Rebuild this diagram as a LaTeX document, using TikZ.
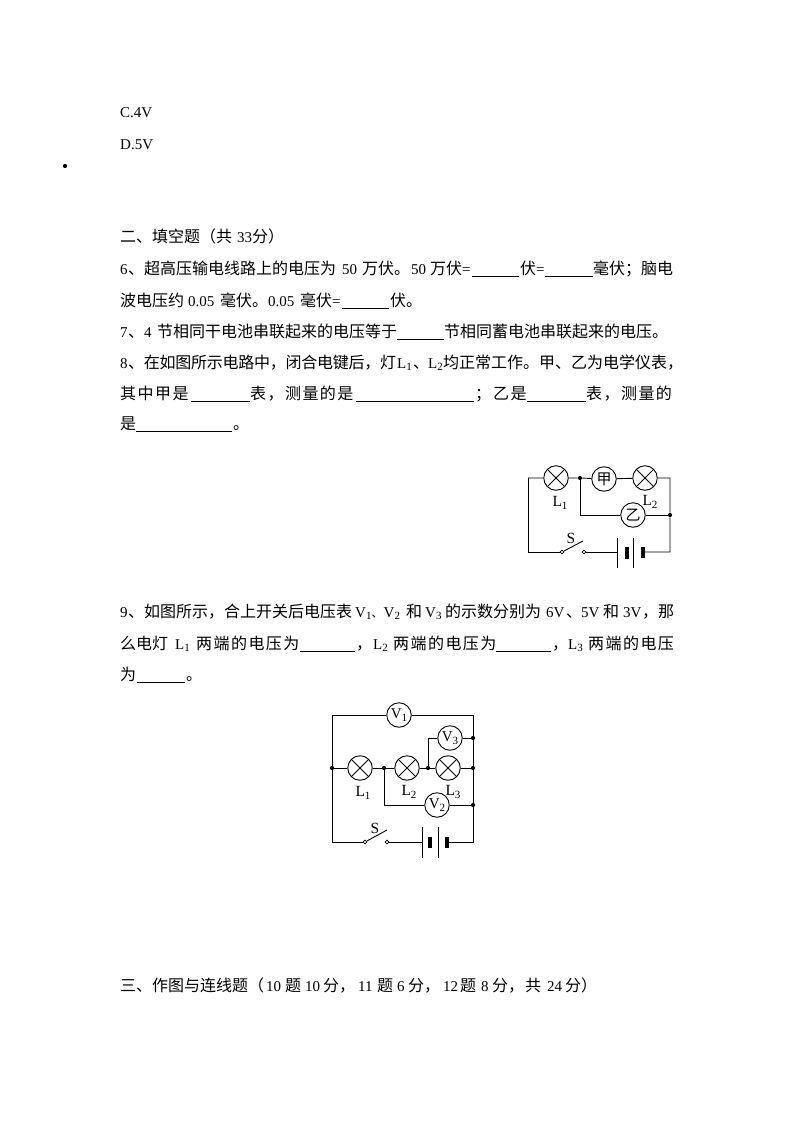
\documentclass[tikz,border=0pt]{standalone}
\usepackage{fontspec}
\setmainfont{Liberation Serif}
\newfontfamily\cjk{Noto Sans CJK SC}
\newcommand{\lowi}[1]{\raisebox{-2.5pt}{\fontsize{11}{11}\selectfont #1}}
\newcommand{\nrw}[2]{\makebox[#1pt][l]{#2}}
\tikzset{
 x=1pt,y=-1pt,
 zh/.style={anchor=base west,inner sep=0,yshift=-1pt,font=\cjk\fontsize{16}{16}\selectfont},
 zhs/.style={zh,font=\cjk\fontsize{16}{16}\selectfont\addfontfeature{LetterSpace=9}},
 zhn/.style={zh,font=\cjk\fontsize{16}{16}\selectfont\addfontfeature{LetterSpace=-1.6}},
 zhsmall/.style={zh,font=\cjk\fontsize{11.5}{11.5}\selectfont},
 lat/.style={anchor=base west,inner sep=0,yshift=-1pt,font=\fontsize{15}{15}\selectfont},
 blank/.style={line width=0.9pt,yshift=-1pt},
 wire/.style={line width=0.9pt},
 plate/.style={line width=0.9pt},
 thickplate/.style={line width=3.5pt},
 lamp/.style={circle,draw,line width=0.9pt,minimum size=24.5pt,inner sep=0,
   path picture={\draw[line width=0.9pt] (path picture bounding box.north west)--(path picture bounding box.south east)
   (path picture bounding box.north east)--(path picture bounding box.south west);}},
 meter/.style={circle,draw,line width=0.9pt,minimum size=24.5pt,inner sep=0},
 dot/.style={circle,fill=black,minimum size=4.2pt,inner sep=0},
 contact/.style={circle,draw,line width=0.8pt,minimum size=3.8pt,inner sep=0},
 lab/.style={inner sep=0,font=\fontsize{15.5}{15.5}\selectfont},
 mtxt/.style={inner sep=0,font=\fontsize{15}{15}\selectfont},
 mzh/.style={inner sep=0,font=\cjk\fontsize{15}{15}\selectfont},
}
\begin{document}
\begin{tikzpicture}
\useasboundingbox (0,0) rectangle (794,1123);
% top
\node[lat] (c4) at (120,117) {C.4V};
\node[lat] (d5) at (120,149) {D.5V};
\node[dot] (bul) at (65,166) {};
% header
\node[zh] (h1) at (120,241) {二、填空题（共};
\node[lat] (h2) at (237,241) {33};
\node[zh] (h3) at (252,241) {分）};
% q6
\node[lat] (q6a) at (120,273) {6};
\node[zh] (q6b) at (128,273) {、超高压输电线路上的电压为};
\node[lat] (q6c) at (342,273) {50};
\node[zh] (q6d) at (362,273) {万伏。};
\node[lat] (q6e) at (411,273) {50};
\node[zh] (q6f) at (430,273) {万伏};
\node[lat] (q6g) at (462,273) {=};
\draw[blank] (472,275.5)--(519,275.5);
\node[zh] (q6h) at (520,273) {伏};
\node[lat] (q6i) at (536,273) {=};
\draw[blank] (545,275.5)--(593,275.5);
\node[zh] (q6j) at (593,273) {毫伏；脑电};
\node[zh] (q6k) at (120,305) {波电压约};
\node[lat] (q6l) at (188,305) {0.05};
\node[zh] (q6m) at (220,305) {毫伏。};
\node[lat] (q6n) at (268,305) {0.05};
\node[zh] (q6o) at (300,305) {毫伏};
\node[lat] (q6p) at (332,305) {=};
\draw[blank] (342,307.5)--(389,307.5);
\node[zh] (q6q) at (390,305) {伏。};
% q7
\node[lat] (q7a) at (120,336) {7};
\node[zh] (q7b) at (128,336) {、};
\node[lat] (q7c) at (144,336) {4};
\node[zh] (q7d) at (157,336) {节相同干电池串联起来的电压等于};
\draw[blank] (397,338.5)--(444,338.5);
\node[zh] (q7e) at (444,336) {节相同蓄电池串联起来的电压。};
% q8
\node[lat] (q8a) at (120,367) {8};
\node[zhn] (q8b) at (128,367) {、在如图所示电路中，闭合电键后，灯};
\node[lat] (q8c) at (397,367) {L\lowi{1}};
\node[zh] (q8d) at (413,367) {\nrw{14}{、}};
\node[lat] (q8e) at (428,367) {L\lowi{2}};
\node[zh] (q8f) at (443,367) {均正常工作。甲、乙为电学仪表，};
\node[zhs] (q8g) at (120,398) {其中甲是};
\draw[blank] (191,400.5)--(250,400.5);
\node[zhs] (q8h) at (250,398) {表，测量的是};
\draw[blank] (356,400.5)--(474,400.5);
\node[zh] (q8i) at (475,398) {；};
\node[zhs] (q8j) at (493,398) {乙是};
\draw[blank] (527,400.5)--(586,400.5);
\node[zhs] (q8k) at (586,398) {表，测量的};
\node[zh] (q8l) at (120,428) {是};
\draw[blank] (136,430.5)--(232,430.5);
\node[zh] (q8m) at (233,428) {。};
% circuit 1
\node[lamp] (a1) at (556,478) {};
\node[dot] (aj1) at (580,478) {};
\node[meter] (am) at (604,479) {}; \node[mzh] (amt) at (604,479) {甲};
\node[lamp] (a2) at (645,478) {};
\node[meter] (an) at (633,515) {}; \node[mzh] (ant) at (633,515) {乙};
\node[dot] (aj2) at (670,515) {};
\coordinate (atl) at (528,478);
\coordinate (atr) at (670,478);
\coordinate (abl) at (528,552);
\coordinate (abr) at (670,552);
\coordinate (ajd) at (580,515);
\node[contact] (asa) at (562,552) {};
\node[contact] (asb) at (584,552) {};
\coordinate (abt) at (583,541);
\coordinate (apa) at (617,552);
\coordinate (apb) at (643,552);
\draw[wire] (atl)--(a1) (a1)--(aj1)--(am)--(a2)--(atr)--(aj2)--(abr)--(apb);
\draw[wire] (atl)--(abl)--(asa);
\draw[wire] (asa)--(abt);
\draw[wire] (asb)--(apa);
\draw[wire] (aj1)--(ajd)--(an)--(aj2);
\draw[plate] (617,538)--(617,568) (633,538)--(633,568);
\draw[thickplate] (627,547)--(627,559) (643,547)--(643,558);
\node[lab] (al1) at (560,503) {L\lowi{1}};
\node[lab] (al2) at (650,502) {L\lowi{2}};
\node[lab] (as) at (571,538) {S};
% q9
\node[lat] (q9a) at (120,616) {9};
\node[zh] (q9b) at (128,616) {、如图所示，合上开关后电压表};
\node[lat] (q9c) at (355,616) {V\lowi{1}};
\node[zhsmall] (q9d) at (371.5,616) {、};
\node[lat] (q9e) at (383.5,616) {V\lowi{2}};
\node[zh] (q9f) at (406,616) {和};
\node[lat] (q9g) at (425,616) {V\lowi{3}};
\node[zh] (q9h) at (445,616) {的示数分别为};
\node[lat] (q9i) at (546,616) {6V};
\node[zh] (q9j) at (566,616) {、};
\node[lat] (q9k) at (581,616) {5V};
\node[zh] (q9l) at (603,616) {和};
\node[lat] (q9m) at (623,616) {3V};
\node[zh] (q9n) at (642,616) {，};
\node[zh] (q9o) at (658,616) {那};
\node[zh] (q9p) at (120,648) {么电灯};
\node[lat] (q9q) at (175,648) {L\lowi{1}};
\node[zhs] (q9r) at (196,648) {两端的电压为};
\draw[blank] (300,650.5)--(355,650.5);
\node[zh] (q9s) at (356,648) {，};
\node[lat] (q9t) at (373,648) {L\lowi{2}};
\node[zhs] (q9u) at (393,648) {两端的电压为};
\draw[blank] (496,650.5)--(551,650.5);
\node[zh] (q9v) at (552,648) {，};
\node[lat] (q9w) at (568,648) {L\lowi{3}};
\node[zhs] (q9x) at (588,648) {两端的电压};
\node[zh] (q9y) at (120,679) {为};
\draw[blank] (137,681.5)--(185,681.5);
\node[zh] (q9z) at (186,679) {。};
% circuit 2
\node[meter] (v1) at (399,715) {}; \node[mtxt] (v1t) at (399,715) {V\lowi{1}};
\node[meter] (v3) at (450,738) {}; \node[mtxt] (v3t) at (450,738) {V\lowi{3}};
\node[lamp] (b1) at (360,768) {};
\node[lamp] (b2) at (407,768) {};
\node[lamp] (b3) at (448,768) {};
\node[meter] (v2) at (437,805) {}; \node[mtxt] (v2t) at (437,805) {V\lowi{2}};
\node[dot] (bj0) at (332,768) {};
\node[dot] (bj1) at (384,768) {};
\node[dot] (bj2) at (428,768) {};
\node[dot] (bj3) at (473,768) {};
\node[dot] (bj4) at (473,738) {};
\node[dot] (bj5) at (473,805) {};
\coordinate (btl) at (332,715);
\coordinate (btr) at (473,715);
\coordinate (bbl) at (332,842);
\coordinate (bbr) at (473,842);
\coordinate (bu) at (428,738);
\coordinate (bd) at (384,805);
\node[contact] (bsa) at (365,842) {};
\node[contact] (bsb) at (387,842) {};
\coordinate (bbt) at (387,830);
\coordinate (bpa) at (422,842);
\coordinate (bpb) at (447,842);
\draw[wire] (v1)--(btl)--(bj0)--(bbl)--(bsa);
\draw[wire] (v1)--(btr)--(bj4)--(bj3)--(bj5)--(bbr)--(bpb);
\draw[wire] (bj0)--(b1)--(bj1)--(b2)--(bj2)--(b3)--(bj3);
\draw[wire] (bj2)--(bu)--(v3)--(bj4);
\draw[wire] (bj1)--(bd)--(v2)--(bj5);
\draw[wire] (bsa)--(bbt);
\draw[wire] (bsb)--(bpa);
\draw[plate] (422,827)--(422,858) (438,827)--(438,858);
\draw[thickplate] (430,837)--(430,848) (447,837)--(447,848);
\node[lab] (bl1) at (363,793) {L\lowi{1}};
\node[lab] (bl2) at (409,792) {L\lowi{2}};
\node[lab] (bl3) at (453,792) {L\lowi{3}};
\node[lab] (bs) at (375,828) {S};
% bottom
\node[zh] (s1) at (120,990) {三、作图与连线题（};
\node[lat] (s2) at (266,990) {10};
\node[zh] (s3) at (285,990) {题};
\node[lat] (s4) at (305,990) {10};
\node[zh] (s5) at (323,990) {分，};
\node[lat] (s6) at (358,990) {11};
\node[zh] (s7) at (377,990) {题};
\node[lat] (s8) at (397,990) {6};
\node[zh] (s9) at (408,990) {分，};
\node[lat] (s10) at (443,990) {12};
\node[zh] (s11) at (460,990) {题};
\node[lat] (s12) at (481,990) {8};
\node[zh] (s13) at (492,990) {分，};
\node[zh] (s14) at (525,990) {共};
\node[lat] (s15) at (547,990) {24};
\node[zh] (s16) at (565,990) {分）};
\end{tikzpicture}
\end{document}
